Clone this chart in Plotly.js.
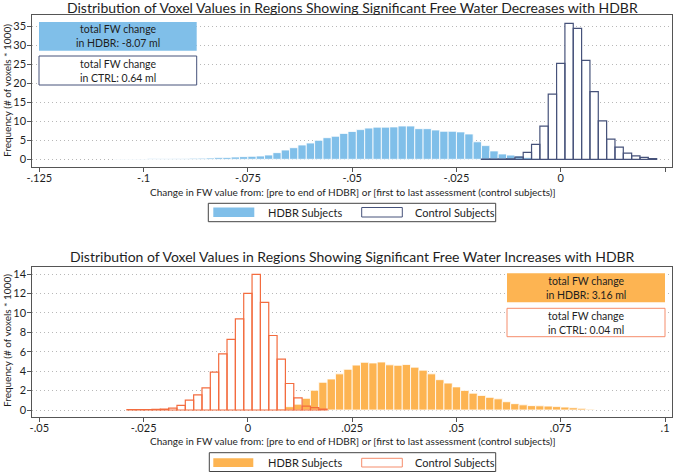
<!DOCTYPE html>
<html>
<head>
<meta charset="utf-8">
<script src="https://cdn.plot.ly/plotly-3.0.1.min.js"></script>
<style>html,body{margin:0;padding:0;background:#fff;}#chart{width:675px;height:473px;}</style>
</head>
<body>
<div id="chart"></div>
<script>
// ---- data (bin centres, frequency in thousands of voxels) ----
const hdbrDecX = [-0.106,-0.104,-0.102,-0.100,-0.098,-0.096,-0.094,-0.092,-0.090,-0.088,-0.086,-0.084,-0.082,-0.080,-0.078,-0.076,-0.074,-0.072,-0.070,-0.068,-0.066,-0.064,-0.062,-0.060,-0.058,-0.056,-0.054,-0.052,-0.050,-0.048,-0.046,-0.044,-0.042,-0.040,-0.038,-0.036,-0.034,-0.032,-0.030,-0.028,-0.026,-0.024,-0.022,-0.020,-0.018,-0.016,-0.014,-0.012,-0.010,-0.008,-0.006];
const hdbrDecY = [0.05,0.07,0.08,0.10,0.12,0.15,0.18,0.20,0.23,0.27,0.30,0.35,0.45,0.50,0.60,0.70,0.78,0.87,1.13,1.75,2.44,3.05,3.76,4.28,4.99,5.68,6.05,6.80,7.30,7.80,8.20,8.45,8.45,8.50,8.75,8.75,8.05,8.05,7.70,7.36,7.36,7.20,6.65,4.60,3.60,2.20,1.40,1.10,0.90,0.50,0.20];
const ctrlDecX = [-0.018,-0.016,-0.014,-0.012,-0.010,-0.008,-0.006,-0.004,-0.002,0.000,0.002,0.004,0.006,0.008,0.010,0.012,0.014,0.016,0.018,0.020,0.022];
const ctrlDecY = [0.03,0.05,0.08,0.15,0.6,1.8,3.9,8.7,17.1,25.2,35.7,34.4,26.0,17.8,10.1,5.3,3.2,1.6,0.9,0.5,0.2];

const hdbrIncX = [0.008,0.010,0.012,0.014,0.016,0.018,0.020,0.022,0.024,0.026,0.028,0.030,0.032,0.034,0.036,0.038,0.040,0.042,0.044,0.046,0.048,0.050,0.052,0.054,0.056,0.058,0.060,0.062,0.064,0.066,0.068,0.070,0.072,0.074,0.076,0.078,0.080,0.082];
const hdbrIncY = [0.1,0.34,0.6,1.2,2.03,2.85,3.19,3.72,4.19,4.62,4.91,4.84,4.94,4.65,4.6,4.68,4.41,4.1,3.72,3.12,2.77,2.38,2.02,1.73,1.5,1.3,1.15,0.85,0.65,0.53,0.45,0.43,0.4,0.35,0.3,0.23,0.17,0.08];
const ctrlIncX = [-0.028,-0.026,-0.024,-0.022,-0.020,-0.018,-0.016,-0.014,-0.012,-0.010,-0.008,-0.006,-0.004,-0.002,0.000,0.002,0.004,0.006,0.008,0.010,0.012,0.014,0.016,0.018];
const ctrlIncY = [0.03,0.04,0.05,0.07,0.1,0.2,0.47,1.02,1.56,2.28,3.9,5.77,7.27,9.38,12.0,13.97,11.07,7.67,5.23,2.73,1.25,0.4,0.25,0.1];

const binWidth = 0.002;

const topTickVals = [-0.125,-0.1,-0.075,-0.05,-0.025,0,0.025];
const topTickText = ['-.125','-.1','-.075','-.05','-.025','0','.025'];
const topYTicks = [0,5,10,15,20,25,30,35];
const botTickVals = [-0.05,-0.025,0,0.025,0.05,0.075,0.1];
const botTickText = ['-.05','-.025','0','.025','.05','.075','.1'];
const botYTicks = [0,2,4,6,8,10,12,14];

const titleTop = 'Distribution of Voxel Values in Regions Showing Significant Free Water Decreases with HDBR';
const titleBot = 'Distribution of Voxel Values in Regions Showing Significant Free Water Increases with HDBR';
const xTitle = 'Change in FW value from: [pre to end of HDBR] or [first to last assessment (control subjects)]';
const yTitle = 'Frequency (# of voxels * 1000)';
const boxTextTop = ['total FW change<br>in HDBR: -8.07 ml', 'total FW change<br>in CTRL: 0.64 ml'];
const boxTextBot = ['total FW change<br>in HDBR: 3.16 ml', 'total FW change<br>in CTRL: 0.04 ml'];
const legendNames = ['HDBR Subjects', 'Control Subjects'];

// ---- styles ----
const BLUE = '#80bfe9', NAVY = '#46527a';
const ORANGE = '#fdb452', ORED = '#f36c3f', OSAL = '#f58d6c';
const FONT = 'Lato, "Open Sans", sans-serif';
const TXT = '#1e1e1e';
const W = 675, H = 473;
const px = x => x / W;
const py = y => 1 - y / H;

function bars(x, y, xa, ya, fill, line, lw) {
  return {type: 'bar', x: x, y: y, width: binWidth, xaxis: xa, yaxis: ya,
    marker: {color: fill, line: {color: line, width: lw}},
    showlegend: false, hoverinfo: 'skip'};
}

const data = [
  bars(ctrlDecX, ctrlDecY, 'x', 'y', '#ffffff', 'rgba(0,0,0,0)', 0),
  bars(hdbrDecX, hdbrDecY, 'x', 'y', BLUE, '#ffffff', 0.8),
  bars(ctrlDecX, ctrlDecY, 'x', 'y', 'rgba(0,0,0,0)', NAVY, 1.2),
  bars(ctrlIncX, ctrlIncY, 'x2', 'y2', '#ffffff', 'rgba(0,0,0,0)', 0),
  bars(hdbrIncX, hdbrIncY, 'x2', 'y2', ORANGE, '#ffffff', 0.8),
  bars(ctrlIncX, ctrlIncY, 'x2', 'y2', 'rgba(0,0,0,0)', ORED, 1.2)
];

const axCommon = {showline: true, mirror: true, linecolor: '#555', linewidth: 1,
  ticks: 'outside', ticklen: 4, tickcolor: '#555', tickfont: {family: FONT, size: 11, color: TXT},
  zeroline: false, tickmode: 'array', fixedrange: true};
const xExtra = {showgrid: false, ticklabelstandoff: -3};
const yExtra = {showgrid: true, gridcolor: '#b8b8b8', griddash: '1px,3px', gridwidth: 1, ticklabelstandoff: -1};

const layout = {
  width: W, height: H, margin: {l: 0, r: 0, t: 0, b: 0},
  paper_bgcolor: '#fff', plot_bgcolor: '#fff',
  barmode: 'overlay', bargap: 0, showlegend: false,
  font: {family: FONT, color: TXT},
  xaxis: Object.assign({}, axCommon, xExtra, {domain: [px(32.3), px(671.7)], range: [-0.12668, 0.0266],
    tickvals: topTickVals, ticktext: topTickText, anchor: 'y'}),
  yaxis: Object.assign({}, axCommon, yExtra, {domain: [py(166.7), py(15)], range: [-1.94, 37.9],
    tickvals: topYTicks, ticktext: topYTicks.map(String), anchor: 'x'}),
  xaxis2: Object.assign({}, axCommon, xExtra, {domain: [px(32.3), px(671.7)], range: [-0.05168, 0.1016],
    tickvals: botTickVals, ticktext: botTickText, anchor: 'y2'}),
  yaxis2: Object.assign({}, axCommon, yExtra, {domain: [py(416.7), py(267.3)], range: [-0.69, 14.69],
    tickvals: botYTicks, ticktext: botYTicks.map(String), anchor: 'x2'}),
  shapes: [],
  annotations: []
};

function rect(x0, y0, x1, y1, fill, line) {
  layout.shapes.push({type: 'rect', xref: 'paper', yref: 'paper', x0: px(x0), x1: px(x1),
    y0: py(y1), y1: py(y0), fillcolor: fill, line: {color: line || 'rgba(0,0,0,0)', width: line ? 1 : 0}, layer: 'above'});
}
function text(t, x, y, size, opts) {
  layout.annotations.push(Object.assign({text: t, x: px(x), y: py(y), xref: 'paper', yref: 'paper',
    showarrow: false, xanchor: 'center', yanchor: 'middle', font: {family: FONT, size: size, color: TXT}}, opts || {}));
}

// titles
text(titleTop, 352.5, 7.5, 14);
text(titleBot, 352.5, 256.5, 14);
text(xTitle, 352.5, 191.5, 10);
text(xTitle, 352.5, 440.5, 10);
text(yTitle, 7, 91, 10, {textangle: -90});
text(yTitle, 7, 341, 10, {textangle: -90});

// info boxes
rect(39, 22, 196.7, 50.7, BLUE);
text(boxTextTop[0], 118, 36.5, 10.5);
rect(39, 56, 196.7, 85, '#ffffff', NAVY);
text(boxTextTop[1], 118, 70.5, 10.5);
rect(507, 273.3, 665, 302.3, ORANGE);
text(boxTextBot[0], 586, 288, 10.5);
rect(507, 308.3, 665, 336.7, '#ffffff', OSAL);
text(boxTextBot[1], 586, 322.5, 10.5);

// legends
rect(208.3, 203.3, 495.7, 221.7, '#ffffff', '#444');
rect(213.3, 207.5, 254.3, 217, BLUE);
rect(361.7, 207.5, 402.3, 217, '#ffffff', NAVY);
text(legendNames[0], 265.7, 212.3, 11, {xanchor: 'left'});
text(legendNames[1], 413.3, 212.3, 11, {xanchor: 'left'});

rect(209.3, 452.7, 495.7, 471.5, '#ffffff', '#444');
rect(213.3, 458.3, 253.3, 467, ORANGE);
rect(361.7, 458.3, 402.3, 467, '#ffffff', OSAL);
text(legendNames[0], 265.7, 462.5, 11, {xanchor: 'left'});
text(legendNames[1], 413.3, 462.5, 11, {xanchor: 'left'});

Plotly.newPlot('chart', data, layout, {staticPlot: true, displayModeBar: false});
</script>
</body>
</html>
